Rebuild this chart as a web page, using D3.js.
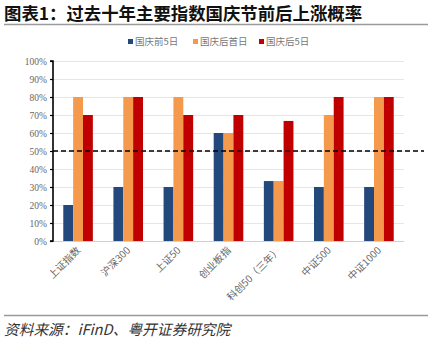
<!DOCTYPE html>
<html>
<head>
<meta charset="utf-8">
<script src="https://cdn.jsdelivr.net/npm/d3@7"></script>
<style>
  html, body { margin: 0; padding: 0; background: #fff; }
  svg { display: block; }
</style>
</head>
<body>
<svg id="chart" width="442" height="343"></svg>
<script>
// Share of the last ten years in which each index rose around National Day
const categories = ["上证指数", "沪深300", "上证50", "创业板指", "科创50（三年）", "中证500", "中证1000"];
const seriesNames = ["国庆前5日", "国庆后首日", "国庆后5日"];
const before5 = [0.20, 0.30, 0.30, 0.60, 0.333, 0.30, 0.30];
const firstDay = [0.80, 0.80, 0.80, 0.60, 0.333, 0.70, 0.80];
const after5 = [0.70, 0.80, 0.70, 0.70, 0.667, 0.80, 0.80];
const yTicks = [0, 0.1, 0.2, 0.3, 0.4, 0.5, 0.6, 0.7, 0.8, 0.9, 1.0];
const threshold = 0.5;

const seriesValues = [before5, firstDay, after5];
const colors = ["#23497c", "#f5994d", "#c00000"];

const svg = d3.select("#chart");
const cjk = "'Noto Sans CJK SC', 'Noto Sans', sans-serif";
const serif = "'Liberation Serif', 'DejaVu Serif', serif";

// Heading and rules
svg.append("text")
  .attr("x", 4).attr("y", 20)
  .attr("font-family", cjk).attr("font-weight", "bold")
  .attr("font-size", 17.4).attr("fill", "#111")
  .text("图表1：过去十年主要指数国庆节前后上涨概率");
svg.append("line").attr("x1", 4).attr("x2", 428).attr("y1", 24.5).attr("y2", 24.5)
  .attr("stroke", "#9a9a9a").attr("stroke-width", 1.5);
svg.append("line").attr("x1", 4).attr("x2", 428).attr("y1", 315.5).attr("y2", 315.5)
  .attr("stroke", "#9a9a9a").attr("stroke-width", 1.5);
svg.append("text")
  .attr("x", 4).attr("y", 335)
  .attr("font-family", cjk).attr("font-style", "italic")
  .attr("font-size", 14.7).attr("fill", "#333")
  .text("资料来源：iFinD、粤开证券研究院");

// Scales
const plot = { left: 53, right: 404, top: 61, bottom: 241 };
const x = d3.scaleBand().domain(categories).range([plot.left, plot.right]).paddingInner(0.41).paddingOuter(0.205);
const xs = d3.scaleBand().domain(seriesNames).range([0, x.bandwidth()]).padding(0);
const y = d3.scaleLinear().domain([0, 1]).range([plot.bottom, plot.top]);

// Gridlines
svg.append("g").selectAll("line").data(yTicks.slice(1)).join("line")
  .attr("x1", plot.left).attr("x2", plot.right)
  .attr("y1", d => Math.round(y(d)) + 0.5).attr("y2", d => Math.round(y(d)) + 0.5)
  .attr("stroke", "#e6e6e6").attr("stroke-width", 1);

// Bars
const groups = svg.append("g").selectAll("g").data(categories).join("g")
  .attr("transform", d => `translate(${x(d)},0)`);
groups.selectAll("rect")
  .data((d, i) => seriesNames.map((s, k) => ({ s, k, v: seriesValues[k][i] })))
  .join("rect")
  .attr("x", d => xs(d.s))
  .attr("width", xs.bandwidth())
  .attr("y", d => y(d.v))
  .attr("height", d => y(0) - y(d.v))
  .attr("fill", d => colors[d.k]);

// Category axis
svg.append("line").attr("x1", plot.left).attr("x2", plot.right)
  .attr("y1", plot.bottom + 0.5).attr("y2", plot.bottom + 0.5)
  .attr("stroke", "#d0d0d0");
svg.append("g").selectAll("text").data(categories).join("text")
  .attr("transform", d => `translate(${x(d) + x.bandwidth() / 2 + 3},${plot.bottom + 10}) rotate(-45)`)
  .attr("text-anchor", "end")
  .attr("font-family", cjk).attr("font-size", 10).attr("fill", "#666")
  .text(d => d);

// Value axis
const yAxis = d3.axisLeft(y).tickValues(yTicks).tickFormat(d3.format(".0%")).tickSize(3).tickPadding(3);
const ya = svg.append("g").attr("transform", `translate(${plot.left},0)`).call(yAxis);
ya.select(".domain").attr("stroke", "#000").attr("stroke-width", 1.6).attr("d", `M-3,${plot.top}H0V${plot.bottom}H-3`);
ya.selectAll(".tick line").attr("stroke", "#000").attr("stroke-width", 1.2);
ya.selectAll(".tick text").attr("font-family", serif).attr("font-size", 9.5).attr("fill", "#666");

// 50% reference line
svg.append("line")
  .attr("x1", plot.left).attr("x2", 424)
  .attr("y1", y(threshold)).attr("y2", y(threshold))
  .attr("stroke", "#000").attr("stroke-width", 1.6).attr("stroke-dasharray", "5,3");

// Legend
const legendX = [128, 193, 259];
const legend = svg.append("g").selectAll("g").data(seriesNames).join("g")
  .attr("transform", (d, i) => `translate(${legendX[i]},43)`);
legend.append("rect").attr("x", 0).attr("y", -4).attr("width", 5).attr("height", 5)
  .attr("fill", (d, i) => colors[i]);
legend.append("text").attr("x", 7).attr("y", 1.5)
  .attr("font-family", cjk).attr("font-size", 9.5).attr("fill", "#777")
  .text(d => d);
</script>
</body>
</html>
